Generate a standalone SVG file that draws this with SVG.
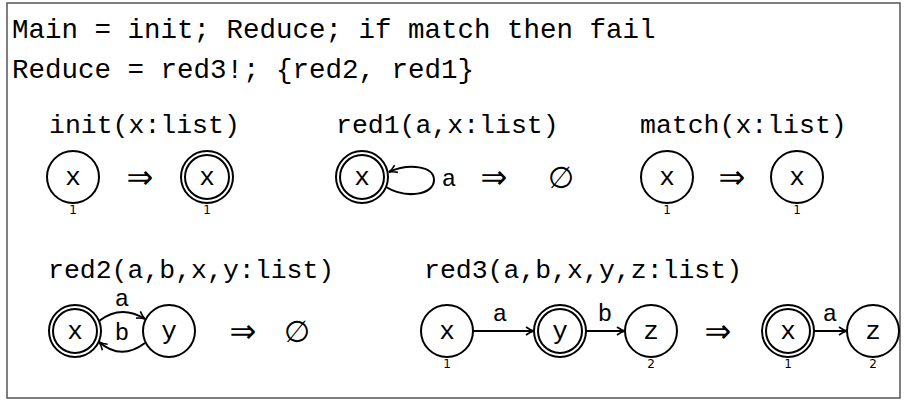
<svg xmlns="http://www.w3.org/2000/svg" width="906" height="405" viewBox="0 0 906 405">
<style>
.t{font-family:"Liberation Mono",monospace;font-size:27.5px;fill:#000}
.h{font-family:"Liberation Mono",monospace;font-size:26.5px;fill:#000}
.n{font-family:"Liberation Mono",monospace;font-size:26px;fill:#000;text-anchor:middle}
.e{font-family:"Liberation Mono",monospace;font-size:24px;fill:#000;text-anchor:middle}
.s{font-family:"DejaVu Sans",sans-serif;font-size:12px;fill:#000;text-anchor:middle}
.o{font-family:"DejaVu Sans",sans-serif;font-size:32px;fill:#000;text-anchor:middle}
.m{font-family:"DejaVu Sans",sans-serif;font-size:30px;fill:#000;text-anchor:middle}
circle{fill:#fff;stroke:#000;stroke-width:2}
.c{fill:none;stroke:#000;stroke-width:2}
</style>
<defs>
<marker id="ah" viewBox="0 0 10 10" refX="9" refY="5" markerWidth="10" markerHeight="10" markerUnits="userSpaceOnUse" orient="auto">
<path d="M1,1 Q5,4 9,5 Q5,6 1,9" fill="none" stroke="#000" stroke-width="1.6"/>
</marker>
</defs>
<rect x="7" y="3" width="893" height="395" fill="#fff" stroke="#555" stroke-width="1.5"/>
<text class="t" x="12" y="38">Main = init; Reduce; if match then fail</text>
<text class="t" x="12" y="78">Reduce = red3!; {red2, red1}</text>

<g id="init">
<text class="h" x="49" y="133">init(x:list)</text>
<g id="init-l"><circle cx="73" cy="177" r="26"/><text class="n" x="73" y="185">x</text><text class="s" x="73" y="214">1</text></g>
<text class="o" x="140" y="188">⇒</text>
<g id="init-r"><circle cx="207" cy="177" r="26"/><circle cx="207" cy="177" r="22"/><text class="n" x="207" y="185">x</text><text class="s" x="207" y="214">1</text></g>
</g>

<g id="red1">
<text class="h" x="336" y="133">red1(a,x:list)</text>
<g id="red1-x"><circle cx="362" cy="177" r="26"/><circle cx="362" cy="177" r="22"/><text class="n" x="362" y="185">x</text></g>
<text class="e" x="449" y="186">a</text>
<text class="o" x="494" y="188">⇒</text>
<text class="m" x="561" y="188">∅</text>
</g>

<g id="match">
<text class="h" x="640" y="133">match(x:list)</text>
<g id="match-l"><circle cx="667" cy="177" r="26"/><text class="n" x="667" y="185">x</text><text class="s" x="667" y="214">1</text></g>
<text class="o" x="732" y="188">⇒</text>
<g id="match-r"><circle cx="797" cy="177" r="26"/><text class="n" x="797" y="185">x</text><text class="s" x="797" y="214">1</text></g>
</g>

<g id="red2">
<text class="h" x="48" y="278">red2(a,b,x,y:list)</text>
<g id="red2-x"><circle cx="75" cy="331" r="26"/><circle cx="75" cy="331" r="22"/><text class="n" x="75" y="339">x</text></g>
<g id="red2-y"><circle cx="169" cy="331" r="26"/><text class="n" x="169" y="339">y</text></g>
<text class="e" x="122" y="306">a</text>
<text class="e" x="122" y="340">b</text>
<text class="o" x="243" y="342">⇒</text>
<text class="m" x="297" y="342">∅</text>
</g>

<g id="red3">
<text class="h" x="424" y="278">red3(a,b,x,y,z:list)</text>
<g id="red3-x"><circle cx="447" cy="331" r="26"/><text class="n" x="447" y="339">x</text><text class="s" x="447" y="368">1</text></g>
<g id="red3-y"><circle cx="560" cy="331" r="26"/><circle cx="560" cy="331" r="22"/><text class="n" x="560" y="339">y</text></g>
<g id="red3-z"><circle cx="651" cy="331" r="26"/><text class="n" x="651" y="339">z</text><text class="s" x="651" y="368">2</text></g>
<text class="e" x="500" y="321">a</text>
<text class="e" x="605" y="321">b</text>
<text class="o" x="718" y="342">⇒</text>
<g id="red3-x2"><circle cx="788" cy="331" r="26"/><circle cx="788" cy="331" r="22"/><text class="n" x="788" y="339">x</text><text class="s" x="788" y="368">1</text></g>
<g id="red3-z2"><circle cx="873" cy="331" r="26"/><text class="n" x="873" y="339">z</text><text class="s" x="873" y="368">2</text></g>
<text class="e" x="830" y="321">a</text>
</g>

<g id="connectors">
<path class="c" d="M386,187 C406,199 434,195 434,180 C434,166 409,163 389,172" marker-end="url(#ah)"/>
<path class="c" d="M99,321 Q121,304 145,319" marker-end="url(#ah)"/>
<path class="c" d="M145,343 Q121,361 99,342" marker-end="url(#ah)"/>
<path class="c" d="M473,331 L534,331" marker-end="url(#ah)"/>
<path class="c" d="M586,331 L625,331" marker-end="url(#ah)"/>
<path class="c" d="M814,331 L847,331" marker-end="url(#ah)"/>
</g>
</svg>
